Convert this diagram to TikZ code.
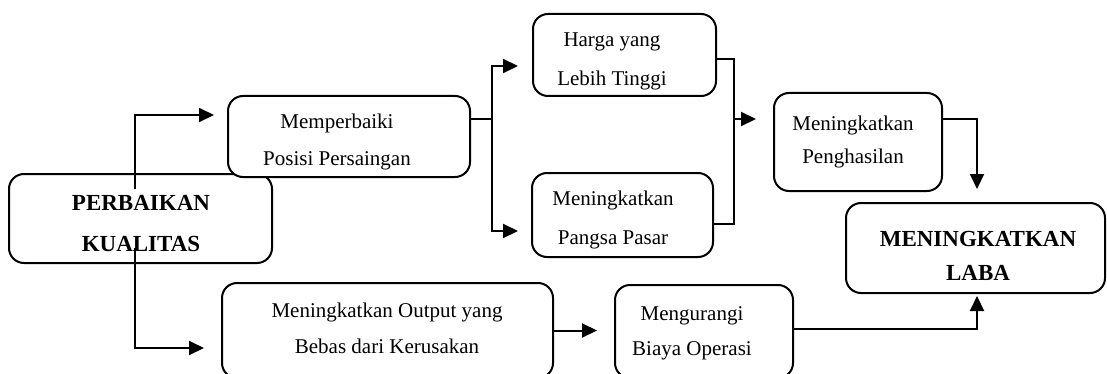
\documentclass[tikz,border=0pt]{standalone}
\usepackage{fontspec}
\setmainfont{Liberation Serif}
\usetikzlibrary{arrows.meta}
\tikzset{
  box/.style={draw, line width=1pt, rounded corners=7.5pt, fill=white, inner sep=0pt},
  txt/.style={align=center, inner sep=0pt, anchor=base, font=\fontsize{10.5pt}{#1}\selectfont},
  txt/.default=18.5pt,
  bold/.style={align=center, inner sep=0pt, anchor=base, font=\fontsize{11.5pt}{#1}\selectfont\bfseries},
  line/.style={line width=1pt},
  arrow/.style={line, -{Triangle[length=7.5pt,width=7pt]}}
}
\begin{document}
\begin{tikzpicture}[x=0.5pt,y=-0.5pt]
      \useasboundingbox (0,0) rectangle (1107,374);
      \node[box, minimum width=131.5pt, minimum height=44.5pt] (kualitas) at (140.5,218.5) {};
      \node[box, minimum width=121pt, minimum height=40.5pt] (posisi) at (349,136.5) {};
      \node[box, minimum width=91.5pt, minimum height=41pt] (harga) at (624.5,55) {};
      \node[box, minimum width=90.5pt, minimum height=42pt] (pangsa) at (622.5,215) {};
      \node[box, minimum width=84pt, minimum height=49pt] (hasil) at (858,142) {};
      \node[box, minimum width=129.5pt, minimum height=45pt] (laba) at (975.5,248) {};
      \node[box, minimum width=165.5pt, minimum height=47.5pt] (output) at (387.5,330.5) {};
      \node[box, minimum width=89pt, minimum height=46.5pt] (biaya) at (704,331.5) {};

      \node[bold=20.5pt] (kualitas-t) at (141,251.5) {PERBAIKAN\\KUALITAS};
      \node[txt] (posisi-t) at (337,165) {Memperbaiki\\Posisi Persaingan};
      \node[txt=19.5pt] (harga-t) at (612,86) {Harga yang\\Lebih Tinggi};
      \node[txt=19.5pt] (pangsa-t) at (613,244) {Meningkatkan\\Pangsa Pasar};
      \node[txt=16.5pt] (hasil-t) at (853,163.5) {Meningkatkan\\Penghasilan};
      \node[bold=17pt] (laba-t) at (978,280) {MENINGKATKAN\\LABA};
      \node[txt=18pt] (output-t) at (387,353) {Meningkatkan Output yang\\Bebas dari Kerusakan};
      \node[txt=17.5pt] (biaya-t) at (692,355) {Mengurangi\\Biaya Operasi};

      \coordinate (split) at (492,119);
      \coordinate (merge) at (734,119);
      \draw[arrow, shorten >=6.5pt] ([xshift=-2.75pt,yshift=-8pt]kualitas.north) |- ([yshift=10.75pt]posisi.west);
      \draw[arrow, shorten >=8.5pt] ([xshift=-2.75pt,yshift=8pt]kualitas.south) |- ([yshift=-8.75pt]output.west);
      \draw[line] ([yshift=8.75pt]posisi.east) -- (split);
      \draw[arrow, shorten >=7pt] (split) |- ([yshift=-5.5pt]harga.west);
      \draw[arrow, shorten >=6.5pt] (split) |- ([yshift=-8pt]pangsa.west);
      \draw[line] ([yshift=-2pt]harga.east) -| (merge);
      \draw[line] ([yshift=-4.5pt]pangsa.east) -| (merge);
      \draw[arrow, shorten >=8.5pt] (merge) -- ([yshift=11.5pt]hasil.west);
      \draw[arrow, shorten >=6.5pt] ([yshift=11.5pt]hasil.east) -| ([xshift=0.75pt]laba.north);
      \draw[arrow, shorten >=8.5pt] (output.east) -- (output.east -| biaya.west);
      \draw[arrow, shorten >=1pt] ([yshift=1.25pt]biaya.east) -| ([xshift=0.75pt]laba.south);
    \end{tikzpicture}
\end{document}
